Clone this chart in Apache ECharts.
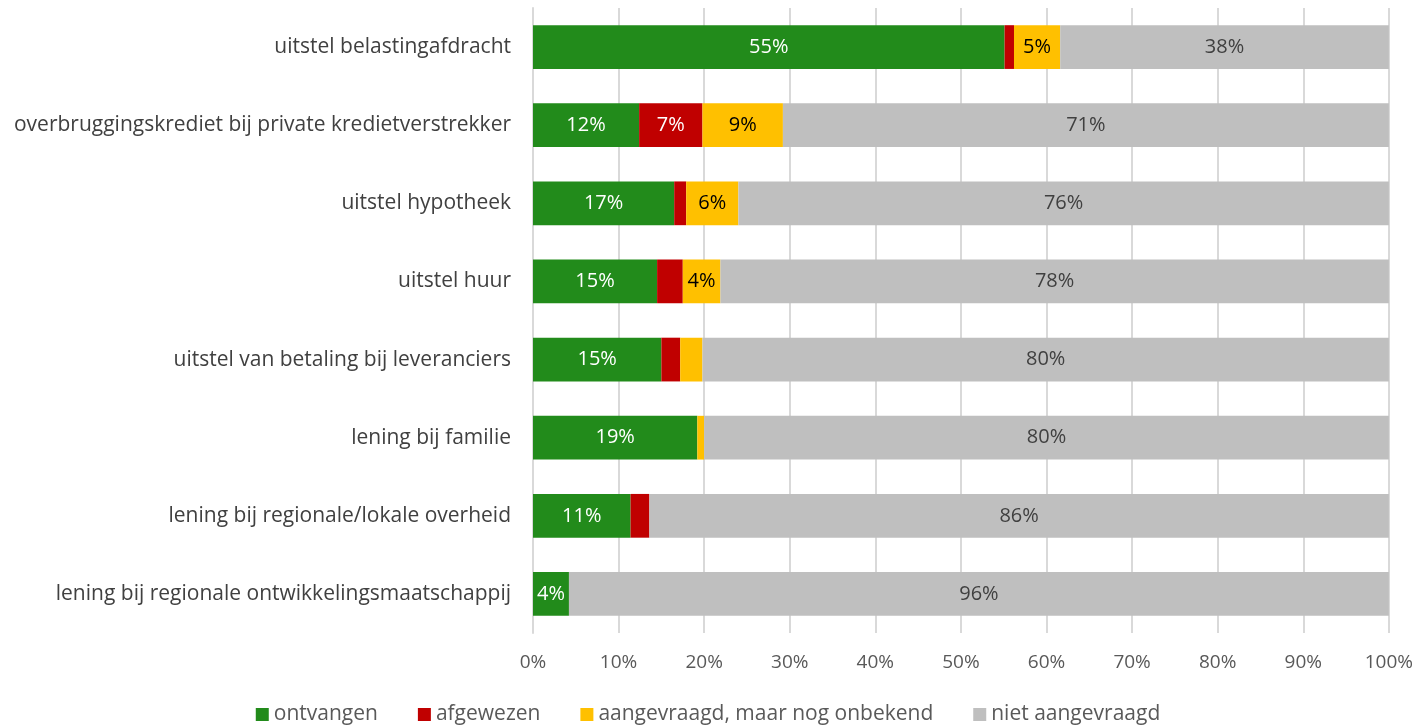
<!DOCTYPE html>
<html>
<head>
<meta charset="utf-8">
<script src="https://cdn.jsdelivr.net/npm/echarts@6/dist/echarts.min.js"></script>
<style>
html, body { margin: 0; padding: 0; background: #fff; }
#chart { width: 1416px; height: 727px; }
</style>
</head>
<body>
<div id="chart"></div>
<script>
// categorieen, van boven naar beneden
var categories = [
    'uitstel belastingafdracht',
    'overbruggingskrediet bij private kredietverstrekker',
    'uitstel hypotheek',
    'uitstel huur',
    'uitstel van betaling bij leveranciers',
    'lening bij familie',
    'lening bij regionale/lokale overheid',
    'lening bij regionale ontwikkelingsmaatschappij'
];
var seriesNames = ['ontvangen', 'afgewezen', 'aangevraagd, maar nog onbekend', 'niet aangevraagd'];
var ontvangen    = [55.1, 12.4, 16.5, 14.5, 15.0, 19.2, 11.4, 4.2];
var afgewezen    = [1.1, 7.4, 1.4, 3.0, 2.2, 0, 2.2, 0];
var aangevraagd  = [5.4, 9.4, 6.1, 4.4, 2.6, 0.8, 0, 0];
var nietAangevr  = [38.4, 70.8, 76.0, 78.1, 80.2, 80.0, 86.4, 95.8];
var xTicks = [0, 10, 20, 30, 40, 50, 60, 70, 80, 90, 100];

var FONT = 'Open Sans';
var colors = ['#228b1b', '#c00000', '#ffc000', '#bfbfbf'];
var labelColors = ['#ffffff', '#ffffff', '#000000', '#404040'];

var chart = echarts.init(document.getElementById('chart'));

function makeSeries(idx, data) {
    return {
        name: seriesNames[idx],
        type: 'bar',
        stack: 'totaal',
        barCategoryGap: '44%',
        data: data,
        itemStyle: { color: colors[idx] },
        label: {
            show: true,
            position: 'inside',
            color: labelColors[idx],
            fontFamily: FONT,
            fontSize: 20,
            formatter: function (p) {
                return p.value >= 3.5 ? Math.round(p.value) + '%' : '';
            }
        }
    };
}

var option = {
    animation: false,
    textStyle: { fontFamily: FONT },
    grid: { left: 533, right: 27, top: 8, bottom: 94 },
    legend: {
        bottom: -3,
        left: 'center',
        itemWidth: 13,
        itemHeight: 13,
        itemGap: 40,
        icon: 'rect',
        textStyle: { fontFamily: FONT, fontSize: 21, color: '#595959' },
        data: seriesNames
    },
    xAxis: {
        type: 'value',
        min: xTicks[0],
        max: xTicks[xTicks.length - 1],
        interval: 10,
        axisLine: { show: false },
        axisTick: { show: false },
        splitLine: { lineStyle: { color: '#d9d9d9', width: 2 } },
        axisLabel: {
            margin: 20,
            color: '#595959',
            fontFamily: FONT,
            fontSize: 19,
            formatter: '{value}%'
        }
    },
    yAxis: {
        type: 'category',
        inverse: true,
        data: categories,
        axisLine: { show: true, lineStyle: { color: '#d9d9d9', width: 2 } },
        axisTick: { show: false },
        axisLabel: {
            margin: 22,
            color: '#404040',
            fontFamily: FONT,
            fontSize: 21
        }
    },
    series: [
        makeSeries(0, ontvangen),
        makeSeries(1, afgewezen),
        makeSeries(2, aangevraagd),
        makeSeries(3, nietAangevr)
    ]
};

chart.setOption(option);
</script>
</body>
</html>
